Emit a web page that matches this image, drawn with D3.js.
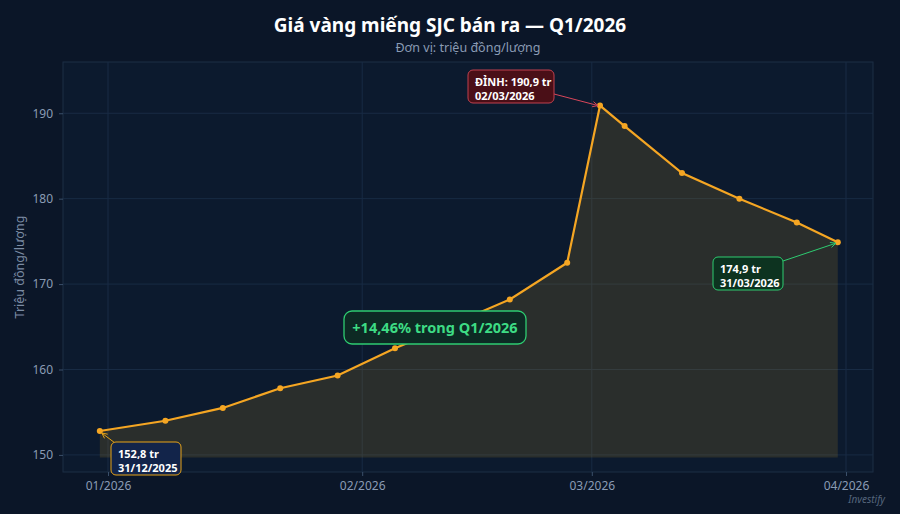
<!DOCTYPE html>
<html><head><meta charset="utf-8">
<script src="https://cdn.jsdelivr.net/npm/d3@7"></script>
<style>body{margin:0;background:#0b1628;}svg{display:block;font-family:"Noto Sans",sans-serif;}</style>
</head><body><svg id="c" width="900" height="514"></svg>
<script>
const dates = ["2025-12-31","2026-01-08","2026-01-15","2026-01-22","2026-01-29","2026-02-05","2026-02-12","2026-02-19","2026-02-26","2026-03-02","2026-03-05","2026-03-12","2026-03-19","2026-03-26","2026-03-31"];
const prices = [152.8,154.0,155.5,157.8,159.3,162.5,165.3,168.2,172.5,190.9,188.5,183.0,180.0,177.2,174.9];
const yTicks = [150,160,170,180,190];
const xTicks = ["2026-01-01","2026-02-01","2026-03-01","2026-04-01"];

const p = d3.timeParse("%Y-%m-%d");
const data = dates.map((d,i)=>({d:p(d),v:prices[i]}));
const svg = d3.select("#c");
const L=63,R=873,T=62,B=472;
const x0=p("2026-01-01"), x1=p("2026-04-01");
const pxPerMs=(846-108)/(x1-x0);
const x = d3.scaleTime().domain([new Date(+x0-(108-L)/pxPerMs), new Date(+x1+(R-846)/pxPerMs)]).range([L,R]);
const y = d3.scaleLinear().domain([148,196]).range([B,T]);

svg.append("rect").attr("width",900).attr("height",514).attr("fill","#0b1628");
svg.append("rect").attr("x",L).attr("y",T).attr("width",R-L).attr("height",B-T).attr("fill","#0c1a2e").attr("stroke","#1c2e45");
const g=svg.append("g");
yTicks.forEach(t=>{g.append("line").attr("x1",L).attr("x2",R).attr("y1",y(t)).attr("y2",y(t)).attr("stroke","#182b44").attr("stroke-width",1);});
xTicks.forEach(t=>{g.append("line").attr("x1",x(p(t))).attr("x2",x(p(t))).attr("y1",T).attr("y2",B).attr("stroke","#182b44").attr("stroke-width",1);});

const ya=svg.append("g").attr("transform",`translate(${L},0)`).call(d3.axisLeft(y).tickValues(yTicks).tickSize(4).tickPadding(6));
const xa=svg.append("g").attr("transform",`translate(0,${B})`).call(d3.axisBottom(x).tickValues(xTicks.map(p)).tickFormat(d3.timeFormat("%m/%Y")).tickSize(4).tickPadding(5));
[ya,xa].forEach(a=>{a.select(".domain").remove();a.selectAll("line").attr("stroke","#3a4f6a");a.selectAll("text").attr("fill","#8a9bb4").attr("font-size",12).attr("font-family","Noto Sans");});

svg.append("path").datum(data).attr("fill","#d8a020").attr("fill-opacity",0.15)
 .attr("d",d3.area().x(d=>x(d.d)).y0(y(149.7)).y1(d=>y(d.v)));
svg.append("path").datum(data).attr("fill","none").attr("stroke","#f5a623").attr("stroke-width",2.2)
 .attr("d",d3.line().x(d=>x(d.d)).y(d=>y(d.v)));
svg.selectAll("circle.pt").data(data).join("circle").attr("cx",d=>x(d.d)).attr("cy",d=>y(d.v)).attr("r",3).attr("fill","#f5a623");

svg.append("text").attr("x",450).attr("y",32).attr("text-anchor","middle").attr("fill","#fff").attr("font-size",19).attr("font-weight","bold").text("Giá vàng miếng SJC bán ra — Q1/2026");
svg.append("text").attr("x",468).attr("y",52).attr("text-anchor","middle").attr("fill","#8a9bb4").attr("font-size",12.5).text("Đơn vị: triệu đồng/lượng");
svg.append("text").attr("transform","translate(24,267) rotate(-90)").attr("text-anchor","middle").attr("fill","#7b8ba3").attr("font-size",12.5).text("Triệu đồng/lượng");
svg.append("text").attr("x",885).attr("y",503).attr("text-anchor","end").attr("fill","#55657c").attr("font-size",10).attr("font-style","italic").text("Investify");

function box(bx,by,w,h,fill,stroke,lines,ax,ay,tx,ty,arrowCol){
  svg.append("line").attr("x1",ax).attr("y1",ay).attr("x2",tx).attr("y2",ty).attr("stroke",arrowCol).attr("stroke-width",1);
  const ang=Math.atan2(ty-ay,tx-ax);
  const s=6;
  svg.append("path").attr("d",`M${tx},${ty}L${tx-s*Math.cos(ang-0.45)},${ty-s*Math.sin(ang-0.45)}M${tx},${ty}L${tx-s*Math.cos(ang+0.45)},${ty-s*Math.sin(ang+0.45)}`).attr("stroke",arrowCol).attr("fill","none");
  svg.append("rect").attr("x",bx).attr("y",by).attr("width",w).attr("height",h).attr("rx",5).attr("fill",fill).attr("stroke",stroke);
  lines.forEach((l,i)=>svg.append("text").attr("x",bx+7).attr("y",by+16+i*14).attr("fill","#fff").attr("font-size",11).attr("font-weight","bold").text(l));
}
const fmt=v=>d3.format(".1f")(v).replace(".",",")+" tr";
const pk=data[9], st=data[0], en=data[14];
box(468,70,86,33,"#4a0f17","#c0414f",["ĐỈNH: "+fmt(pk.v),"02/03/2026"],554,94,x(pk.d)-2,y(pk.v),"#d9465a");
box(111,442,70,33,"#12244a","#e8a317",[fmt(st.v),"31/12/2025"],115,443,x(st.d)+2,y(st.v)+2,"#e8a317");
box(713,257,70,33,"#0d3320","#2ecc71",[fmt(en.v),"31/03/2026"],783,261,x(en.d)-2,y(en.v)+1,"#2ecc71");

const pct=((en.v/st.v-1)*100).toFixed(2).replace(".",",");
svg.append("rect").attr("x",344).attr("y",311).attr("width",182).attr("height",33).attr("rx",8).attr("fill","#0d2a24").attr("stroke","#2ecc71").attr("stroke-width",1.3);
svg.append("text").attr("x",435).attr("y",333).attr("text-anchor","middle").attr("fill","#3ddc84").attr("font-size",14.5).attr("font-weight","bold").text("+"+pct+"% trong Q1/2026");
</script></body></html>
